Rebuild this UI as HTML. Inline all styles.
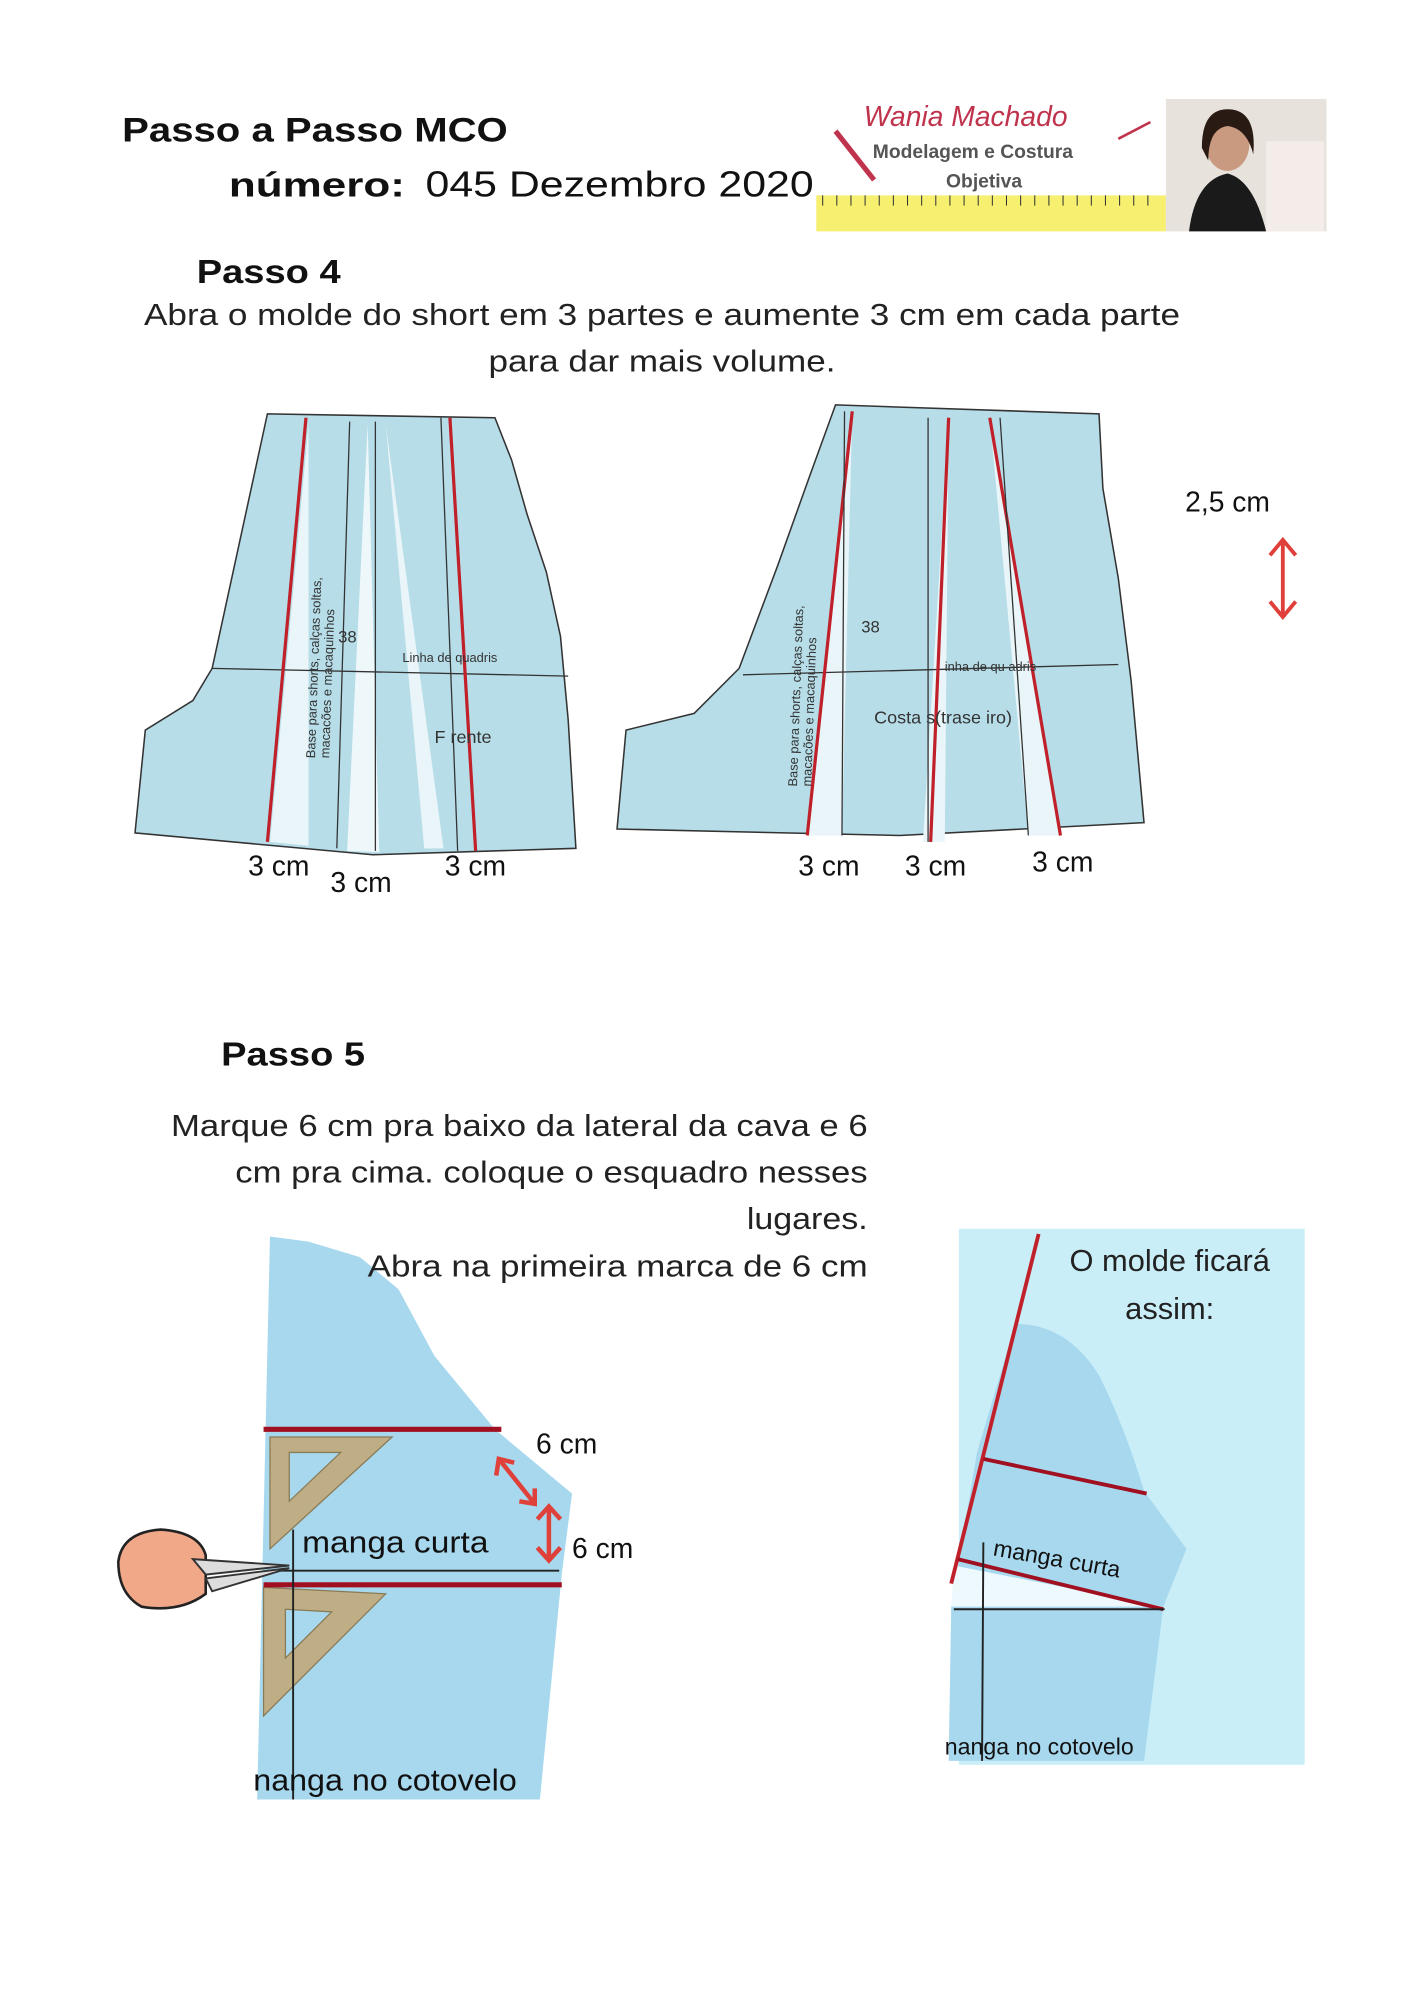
<!DOCTYPE html>
<html><head><meta charset="utf-8"><style>
html,body{margin:0;padding:0;background:#fff}
svg{display:block}
text{font-family:"Liberation Sans",sans-serif}
</style></head><body>
<svg width="1414" height="2000" viewBox="0 0 1100 1556" xmlns="http://www.w3.org/2000/svg">
<rect width="1100" height="1556" fill="#fff"/>
<!-- header -->
<text x="95" y="110" font-size="27" font-weight="bold" fill="#111" textLength="300" lengthAdjust="spacingAndGlyphs">Passo a Passo MCO</text>
<text x="178" y="153" font-size="27" font-weight="bold" fill="#111" textLength="137" lengthAdjust="spacingAndGlyphs">número:</text>
<text x="331" y="153" font-size="28" fill="#111" textLength="302" lengthAdjust="spacingAndGlyphs">045 Dezembro 2020</text>
<!-- logo -->
<rect x="635" y="75" width="272" height="105" fill="#fff"/>
<text x="672" y="98" font-size="22" font-style="italic" fill="#c0334d" font-family="Liberation Serif,serif">Wania Machado</text>
<text x="679" y="123" font-size="15" font-weight="bold" fill="#555">Modelagem e Costura</text>
<text x="736" y="146" font-size="15" font-weight="bold" fill="#555">Objetiva</text>
<line x1="650" y1="102" x2="680" y2="140" stroke="#c0334d" stroke-width="4"/>
<line x1="870" y1="108" x2="895" y2="95" stroke="#c0334d" stroke-width="2"/>
<rect x="635" y="152" width="272" height="28" fill="#f6ef70"/>
<g stroke="#333" stroke-width="0.8">
<line x1="640" y1="152" x2="640" y2="160"/><line x1="651" y1="152" x2="651" y2="160"/><line x1="662" y1="152" x2="662" y2="160"/><line x1="673" y1="152" x2="673" y2="160"/><line x1="684" y1="152" x2="684" y2="160"/><line x1="695" y1="152" x2="695" y2="160"/><line x1="706" y1="152" x2="706" y2="160"/><line x1="717" y1="152" x2="717" y2="160"/><line x1="728" y1="152" x2="728" y2="160"/><line x1="739" y1="152" x2="739" y2="160"/><line x1="750" y1="152" x2="750" y2="160"/><line x1="761" y1="152" x2="761" y2="160"/><line x1="772" y1="152" x2="772" y2="160"/><line x1="783" y1="152" x2="783" y2="160"/><line x1="794" y1="152" x2="794" y2="160"/><line x1="805" y1="152" x2="805" y2="160"/><line x1="816" y1="152" x2="816" y2="160"/><line x1="827" y1="152" x2="827" y2="160"/><line x1="838" y1="152" x2="838" y2="160"/><line x1="849" y1="152" x2="849" y2="160"/><line x1="860" y1="152" x2="860" y2="160"/><line x1="871" y1="152" x2="871" y2="160"/><line x1="882" y1="152" x2="882" y2="160"/><line x1="893" y1="152" x2="893" y2="160"/>
</g>
<!-- photo -->
<rect x="907" y="77" width="125" height="103" fill="#e8e2dc"/>
<path d="M925 180 Q930 140 955 135 Q975 140 985 180Z" fill="#1a1a1a"/>
<ellipse cx="955" cy="112" rx="17" ry="21" fill="#c99a80"/>
<path d="M935 115 Q935 85 955 85 Q978 85 975 120 Q970 100 955 98 Q940 100 940 125Z" fill="#2a1a14"/>
<rect x="985" y="110" width="45" height="70" fill="#f3ece8"/>
<!-- Passo 4 -->
<text x="153" y="220" font-size="26" font-weight="bold" fill="#111" textLength="112" lengthAdjust="spacingAndGlyphs">Passo 4</text>
<text x="112" y="253" font-size="24" fill="#222" textLength="806" lengthAdjust="spacingAndGlyphs">Abra o molde do short em 3 partes e aumente 3 cm em cada parte</text>
<text x="380" y="289" font-size="24" fill="#222" textLength="270" lengthAdjust="spacingAndGlyphs">para dar mais volume.</text>
<!-- front shorts -->
<path d="M208 322 L385 325 L398 358 L410 400 L425 445 L436 495 L442 560 L448 660 L290 665 L105 648 L113 568 L150 545 L165 520 Z" fill="#b7dde8" stroke="#333" stroke-width="1.2"/>
<path d="M240 330 L210 655 L240 658Z" fill="#e9f5f8"/>
<path d="M286 330 L270 662 L295 663Z" fill="#eef8fb"/>
<path d="M300 330 L330 660 L345 660Z" fill="#e9f5f8"/>
<line x1="165" y1="520" x2="442" y2="526" stroke="#333" stroke-width="1"/>
<line x1="238" y1="325" x2="208" y2="655" stroke="#c0202a" stroke-width="2.5"/>
<line x1="272" y1="328" x2="262" y2="660" stroke="#333" stroke-width="1"/>
<line x1="292" y1="328" x2="292" y2="662" stroke="#333" stroke-width="1"/>
<line x1="350" y1="325" x2="370" y2="662" stroke="#c0202a" stroke-width="2.5"/>
<line x1="343" y1="325" x2="356" y2="662" stroke="#333" stroke-width="1"/>
<text x="313" y="515" font-size="10" font-family="Liberation Mono,monospace" fill="#333">Linha  de quadris</text>
<text x="263" y="500" font-size="13" font-family="Liberation Mono,monospace" fill="#333">38</text>
<text x="338" y="578" font-size="14" font-family="Liberation Mono,monospace" fill="#333">F  rente</text>
<text transform="translate(245,590) rotate(-88)" font-size="10" font-family="Liberation Mono,monospace" fill="#333">Base para shorts, calças soltas,</text>
<text transform="translate(256,590) rotate(-88)" font-size="10" font-family="Liberation Mono,monospace" fill="#333">macacões e macaquinhos</text>
<!-- back shorts -->
<path d="M650 315 L855 322 L858 380 L870 450 L880 530 L890 640 L700 650 L480 645 L487 568 L540 555 L575 520 L605 440 L630 370 Z" fill="#b7dde8" stroke="#333" stroke-width="1.2"/>
<path d="M663 320 L628 650 L655 650Z" fill="#e9f5f8"/>
<path d="M738 325 L718 655 L735 655Z" fill="#e9f5f8"/>
<path d="M770 325 L800 650 L825 650Z" fill="#e9f5f8"/>
<line x1="578" y1="525" x2="870" y2="517" stroke="#333" stroke-width="1"/>
<line x1="663" y1="320" x2="628" y2="650" stroke="#c0202a" stroke-width="2.5"/>
<line x1="657" y1="320" x2="655" y2="650" stroke="#333" stroke-width="1"/>
<line x1="722" y1="325" x2="722" y2="655" stroke="#333" stroke-width="1"/>
<line x1="738" y1="325" x2="724" y2="655" stroke="#c0202a" stroke-width="2.5"/>
<line x1="770" y1="325" x2="825" y2="650" stroke="#c0202a" stroke-width="2.5"/>
<line x1="778" y1="325" x2="800" y2="650" stroke="#333" stroke-width="1"/>
<text x="670" y="492" font-size="13" font-family="Liberation Mono,monospace" fill="#333">38</text>
<text x="735" y="522" font-size="10" font-family="Liberation Mono,monospace" fill="#333">inha de qu  adris</text>
<text x="680" y="563" font-size="14" font-family="Liberation Mono,monospace" fill="#333">Costa  s(trase  iro)</text>
<text transform="translate(620,612) rotate(-88)" font-size="10" font-family="Liberation Mono,monospace" fill="#333">Base para shorts, calças soltas,</text>
<text transform="translate(631,612) rotate(-88)" font-size="10" font-family="Liberation Mono,monospace" fill="#333">macacões e macaquinhos</text>
<!-- labels -->
<g font-size="22" fill="#111">
<text x="193" y="681">3 cm</text><text x="257" y="694">3 cm</text><text x="346" y="681">3 cm</text>
<text x="621" y="681">3 cm</text><text x="704" y="681">3 cm</text><text x="803" y="678">3 cm</text>
<text x="922" y="398">2,5 cm</text>
</g>
<g stroke="#e0403a" stroke-width="3" fill="none">
<line x1="998" y1="420" x2="998" y2="480"/>
<polyline points="988,432 998,420 1008,432"/>
<polyline points="988,468 998,480 1008,468"/>
</g>
<!-- Passo 5 -->
<text x="172" y="829" font-size="26" font-weight="bold" fill="#111" textLength="112" lengthAdjust="spacingAndGlyphs">Passo 5</text>
<g font-size="24" fill="#222">
<text x="133" y="884" textLength="542" lengthAdjust="spacingAndGlyphs">Marque 6 cm pra baixo da lateral da cava e 6</text>
<text x="183" y="920" textLength="492" lengthAdjust="spacingAndGlyphs">cm pra cima. coloque o esquadro nesses</text>
<text x="581" y="956" textLength="94" lengthAdjust="spacingAndGlyphs">lugares.</text>
</g>
<!-- left sleeve -->
<path d="M210 962 L240 966 L280 978 L310 1003 L338 1055 L385 1112 L445 1162 L437 1225 L420 1400 L200 1400 Z" fill="#a7d8ee"/>
<text x="286" y="993" font-size="24" fill="#222" textLength="389" lengthAdjust="spacingAndGlyphs">Abra na primeira marca de 6 cm</text>
<path d="M210 1118 L305 1118 L210 1205Z M225 1130 L265 1130 L225 1168Z" fill="#bfae85" fill-rule="evenodd" stroke="#8a7a55" stroke-width="1"/>
<path d="M205 1235 L300 1240 L205 1335Z M222 1252 L258 1254 L222 1290Z" fill="#bfae85" fill-rule="evenodd" stroke="#8a7a55" stroke-width="1"/>
<line x1="205" y1="1112" x2="390" y2="1112" stroke="#a01020" stroke-width="4"/>
<line x1="205" y1="1233" x2="437" y2="1233" stroke="#a01020" stroke-width="4"/>
<line x1="208" y1="1222" x2="435" y2="1222" stroke="#222" stroke-width="1.5"/>
<line x1="228" y1="1190" x2="228" y2="1400" stroke="#222" stroke-width="1.5"/>
<text x="235" y="1208" font-size="24" fill="#111" textLength="145" lengthAdjust="spacingAndGlyphs">manga curta</text>
<text x="197" y="1393" font-size="24" fill="#111" textLength="205" lengthAdjust="spacingAndGlyphs">nanga no cotovelo</text>
<g stroke="#e0403a" stroke-width="3.5" fill="none">
<line x1="388" y1="1135" x2="416" y2="1170"/><polyline points="386,1148 388,1135 400,1138"/><polyline points="404,1168 416,1170 416,1158"/>
<line x1="427" y1="1172" x2="427" y2="1214"/><polyline points="418,1182 427,1172 436,1182"/><polyline points="418,1204 427,1214 436,1204"/>
</g>
<g font-size="22" fill="#111"><text x="417" y="1131">6 cm</text><text x="445" y="1212">6 cm</text></g>
<!-- scissors hand -->
<path d="M92 1215 Q95 1192 125 1190 Q155 1192 160 1210 L160 1240 Q140 1255 110 1250 Q92 1240 92 1215Z" fill="#f0a888" stroke="#222" stroke-width="2"/>
<path d="M150 1213 L225 1218 L160 1225Z M160 1228 L225 1220 L165 1238Z" fill="#ddd" stroke="#333" stroke-width="1.5"/>
<!-- right box -->
<rect x="746" y="956" width="269" height="417" fill="#c9eef8"/>
<path d="M790 1030 Q830 1030 855 1070 Q875 1110 890 1160 L923 1205 L905 1250 L890 1370 L738 1370 L740 1250 L760 1130 Z" fill="#a7d8ee"/>
<path d="M742 1218 L905 1250 L740 1250Z" fill="#eef9fd"/>
<line x1="808" y1="960" x2="740" y2="1232" stroke="#c0202a" stroke-width="3"/>
<line x1="765" y1="1135" x2="892" y2="1162" stroke="#a01020" stroke-width="3"/>
<line x1="745" y1="1213" x2="905" y2="1252" stroke="#a01020" stroke-width="3"/>
<line x1="742" y1="1252" x2="906" y2="1252" stroke="#222" stroke-width="1.5"/>
<line x1="765" y1="1200" x2="764" y2="1370" stroke="#222" stroke-width="1.5"/>
<text transform="translate(772,1210) rotate(10)" font-size="18" fill="#111">manga curta</text>
<text x="735" y="1365" font-size="18" fill="#111">nanga no cotovelo</text>
<g font-size="24" fill="#222" text-anchor="middle"><text x="910" y="989">O molde ficará</text><text x="910" y="1026">assim:</text></g>
</svg>
</body></html>
